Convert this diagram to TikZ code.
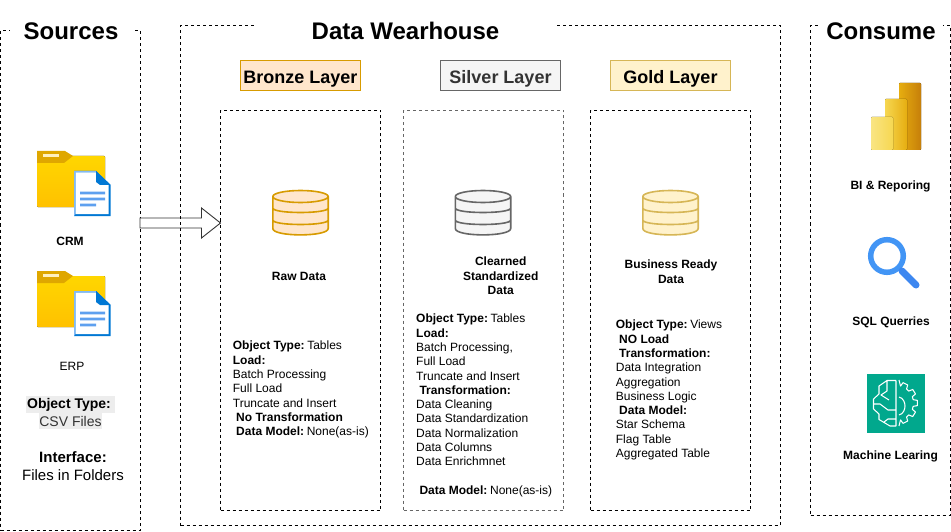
\documentclass[tikz,border=0pt]{standalone}
\usepackage{fontspec}
\setmainfont{Liberation Sans}
\usetikzlibrary{calc}
\definecolor{bronzefill}{HTML}{FFE6CC}
\definecolor{bronzeline}{HTML}{D79B00}
\definecolor{silverfill}{HTML}{F5F5F5}
\definecolor{silverline}{HTML}{666666}
\definecolor{goldfill}{HTML}{FFF2CC}
\definecolor{goldline}{HTML}{D6B656}
\definecolor{silvertext}{HTML}{333333}
\definecolor{hilite}{HTML}{EDEDED}
\definecolor{mlgreen}{HTML}{01A88D}
\definecolor{lensblue}{HTML}{4295F5}
\definecolor{handleblue}{HTML}{3D87F0}
\definecolor{foldertop}{HTML}{FFD600}
\definecolor{folderbot}{HTML}{FFC100}
\definecolor{foldertab}{HTML}{DFA700}
\definecolor{folderslit}{HTML}{FFF0BE}
\definecolor{docblue}{HTML}{0078D4}
\definecolor{docpale}{HTML}{82B9F5}
\definecolor{docline}{HTML}{5EA0EF}
\definecolor{biA}{HTML}{E6AD10}
\definecolor{biB}{HTML}{C67F0A}
\definecolor{biC}{HTML}{F6D751}
\definecolor{biD}{HTML}{F9E583}
\newcommand{\fsz}[2]{\fontsize{#1}{#2}\selectfont}
\newcommand{\gap}{\hspace*{2.6pt}}
\tikzset{
  x=1pt,y=-1pt,
  dashbox/.style={draw=black,line width=0.9pt,dash pattern=on 3pt off 3pt,rectangle,inner sep=0pt,outer sep=0pt,anchor=north west},
  sectiontitle/.style={fill=white,inner sep=0pt,font=\fsz{24}{28}\bfseries,minimum height=20pt},
  layerlabel/.style={draw=#1,line width=0.9pt,minimum width=120pt,minimum height=30pt,inner sep=0pt,outer sep=0pt,text height=16pt,text depth=0pt,font=\fsz{18}{21}\bfseries},
  caption/.style={inner sep=0pt,align=center,font=\fsz{12}{14.4}\bfseries},
  bodytext/.style={inner sep=0pt,anchor=north west,align=left,font=\fsz{12}{14.3}},
  srctext/.style={inner sep=0pt,align=center},
  pics/dbicon/.style 2 args={code={
    \path[fill=#1] (-27.7,0) -- (-27.7,33) .. controls (-27.7,41) and (27.7,41) .. (27.7,33) -- (27.7,0) .. controls (27.7,-8) and (-27.7,-8) .. (-27.7,0) -- cycle;
    \draw[draw=#2,line width=1.6pt,line join=round]
      (-27.7,0) -- (-27.7,32) .. controls (-27.7,40.5) and (27.7,40.5) .. (27.7,32) -- (27.7,0)
      (0,0) ellipse [x radius=27.7,y radius=6]
      (-27.7,11.5) .. controls (-27.7,17.5) and (27.7,17.5) .. (27.7,11.5)
      (-27.7,23.5) .. controls (-27.7,29.5) and (27.7,29.5) .. (27.7,23.5);
  }},
  pics/folderdoc/.style={code={
    \fill[top color=foldertop,bottom color=folderbot,rounded corners=1pt] (0,5) rectangle (68,56);
    \fill[foldertab] (0,0) -- (28,0) -- (36,5) -- (27,12) -- (0,12) -- cycle;
    \fill[folderslit] (6,3) rectangle (22,6);
    \fill[docblue] (37,20) -- (59,20) -- (73.7,34) -- (73.7,65) -- (37,65) -- cycle;
    \fill[docpale] (37,20) -- (59,20) -- (59,21.5) -- (38.5,21.5) -- (38.5,63) -- (37,65) -- cycle;
    \fill[white] (38.5,21.5) -- (59,21.5) -- (71.7,34) -- (71.7,63) -- (38.5,63) -- cycle;
    \fill[docblue] (59,20) -- (73.7,34) -- (63,34) -- (59,31) -- cycle;
    \fill[docline] (43,40.6) rectangle (68,43.4) (43,46.6) rectangle (68,49.4) (43,52.6) rectangle (59,55.4);
  }}
}
\begin{document}
\begin{tikzpicture}
\useasboundingbox (0,0) rectangle (951,532);
% Sources
\node[dashbox,minimum width=139.5pt,minimum height=500pt] (src) at (0.5,30.5) {};
\node[sectiontitle,minimum width=122pt] (srctitle) at (71,31) {Sources};
\pic at (37,151) {folderdoc};
\node[caption] (crm) at (70,241) {CRM};
\pic at (37,271) {folderdoc};
\node[caption,font=\fsz{12}{14.4}] (erp) at (72,366) {ERP};
\node[fill=hilite,inner sep=0pt,minimum width=89pt,minimum height=17pt,font=\fsz{14}{16}] (objt) at (70.5,404.5) {\textbf{Object Type:}\hspace*{3pt}};
\node[fill=hilite,inner sep=0pt,minimum width=63pt,minimum height=16pt,font=\fsz{14}{16},text=silvertext] (csv) at (70.5,421) {CSV Files};
\node[srctext,font=\fsz{15}{18}\bfseries] (iface) at (73,457) {Interface:};
\node[srctext,font=\fsz{15}{18}] (fif) at (73,475) {Files in Folders};
% Layer boxes
\node[dashbox,minimum width=160pt,minimum height=400pt] (bronzebox) at (220.5,110.5) {};
\node[dashbox,draw=silverline,line width=1.4pt,minimum width=160pt,minimum height=400pt] (silverbox) at (403.5,110.5) {};
\node[dashbox,minimum width=160pt,minimum height=400pt] (goldbox) at (590.5,110.5) {};
% Block arrow from the sources to the bronze layer
\coordinate (arrowrow) at (0,223);
\coordinate (arrowtail) at (src.east |- arrowrow);
\coordinate (arrowtip) at (bronzebox.west |- arrowrow);
\draw[fill=white,line width=0.9pt,draw=black!80,line join=miter]
  ($(arrowtail)+(0,-5)$) -- ($(arrowtip)+(-19,-5)$) -- ($(arrowtip)+(-19,-15)$) -- (arrowtip)
  -- ($(arrowtip)+(-19,15)$) -- ($(arrowtip)+(-19,5)$) -- ($(arrowtail)+(0,5)$) -- cycle;
% Warehouse
\node[dashbox,minimum width=599.5pt,minimum height=500pt] (dw) at (180.5,25.5) {};
\node[sectiontitle,minimum width=300pt] (dwtitle) at (405.5,31) {Data Wearhouse};
\node[layerlabel=bronzeline,fill=bronzefill] (bronze) at (300.5,75.5) {Bronze Layer};
\node[layerlabel=silverline,fill=silverfill,text=silvertext] (silver) at (500.5,75.5) {Silver Layer};
\node[layerlabel=goldline,fill=goldfill] (gold) at (670.5,75.5) {Gold Layer};
\pic at (300.5,196.5) {dbicon={bronzefill}{bronzeline}};
\pic at (483,196.5) {dbicon={silverfill}{silverline}};
\pic at (670.5,196.5) {dbicon={goldfill}{goldline}};
\node[caption] (rawcap) at (299,276) {Raw Data};
\node[caption] (silvercap) at (500.7,276) {Clearned\\Standardized\\Data};
\node[caption,font=\fsz{12}{15}\bfseries] (goldcap) at (671,271.5) {Business Ready\\Data};
\node[bodytext] (bronzebody) at (232.7,341) {\textbf{Object Type:}\gap Tables\\
\textbf{Load:}\\
Batch Processing\\
Full Load\\
Truncate and Insert\\
\hspace*{3.3pt}\textbf{No Transformation}\\
\hspace*{3.3pt}\textbf{Data Model:}\gap None(as-is)};
\node[bodytext] (silverbody) at (416,314) {\textbf{Object Type:}\gap Tables\\
\textbf{Load:}\\
Batch Processing,\\
Full Load\\
Truncate and Insert\\
\hspace*{3.3pt}\textbf{Transformation:}\\
Data Cleaning\\
Data Standardization\\
Data Normalization\\
Data Columns\\
Data Enrichmnet\\[14.3pt]
\hspace*{3.3pt}\textbf{Data Model:}\gap None(as-is)};
\node[bodytext] (goldbody) at (615.7,320) {\textbf{Object Type:}\gap Views\\
\hspace*{3.3pt}\textbf{NO Load}\\
\hspace*{3.3pt}\textbf{Transformation:}\\
Data Integration\\
Aggregation\\
Business Logic\\
\hspace*{3.3pt}\textbf{Data Model:}\\
Star Schema\\
Flag Table\\
Aggregated Table};
% Consume
\node[dashbox,minimum width=139.5pt,minimum height=490pt] (consume) at (810.5,25.5) {};
\node[sectiontitle,minimum width=123pt] (contitle) at (881,31) {Consume};
% Power BI icon
\fill[left color=biA,right color=biB,rounded corners=0.8pt] (899,83) rectangle (921,150);
\fill[left color=biC,right color=biA,rounded corners=0.8pt] (885,99) rectangle (907,150);
\fill[left color=biD,right color=biC,rounded corners=0.8pt] (871,117) rectangle (893,150);
\node[caption] (bicap) at (890.5,186.5) {BI \& Reporing};
% Magnifier icon
\draw[lensblue,line width=5.5pt] (887,256) circle [radius=16.3];
\draw[handleblue,line width=7pt,line cap=round] (902,271) -- (916,285);
\node[caption] (sqlcap) at (891,322.5) {SQL Querries};
% Machine learning icon
\fill[mlgreen] (867,374) rectangle (925,432.5);
\draw[white,line width=1.05pt,line join=round]
  (896,380.5) -- (896,426)
  (896,380.5) -- (887,380.5) -- (879,386) -- (879,394) -- (873.5,399) -- (873.5,409) -- (879,414) -- (879,419.5) -- (890,426) -- (896,426)
  (887,380.5) -- (887,391) -- (881,395) -- (889,400)
  (873.5,404) -- (880,404) -- (888,410) -- (896,410)
  (896,419) -- (888,419) -- (884,422)
  (899,397) .. controls (907,399) and (907,413) .. (899,415);
\draw[white,line width=1.05pt,line join=round] (899,380)
  \foreach \a in {-64,-32,0,32,64} { -- ([shift={(896,403)}]\a-11:17.5) -- ([shift={(896,403)}]\a-7:21.5) -- ([shift={(896,403)}]\a+7:21.5) -- ([shift={(896,403)}]\a+11:17.5) }
  -- (899,426);
\node[caption] (mlcap) at (890.5,456) {Machine Learing};
\end{tikzpicture}
\end{document}
